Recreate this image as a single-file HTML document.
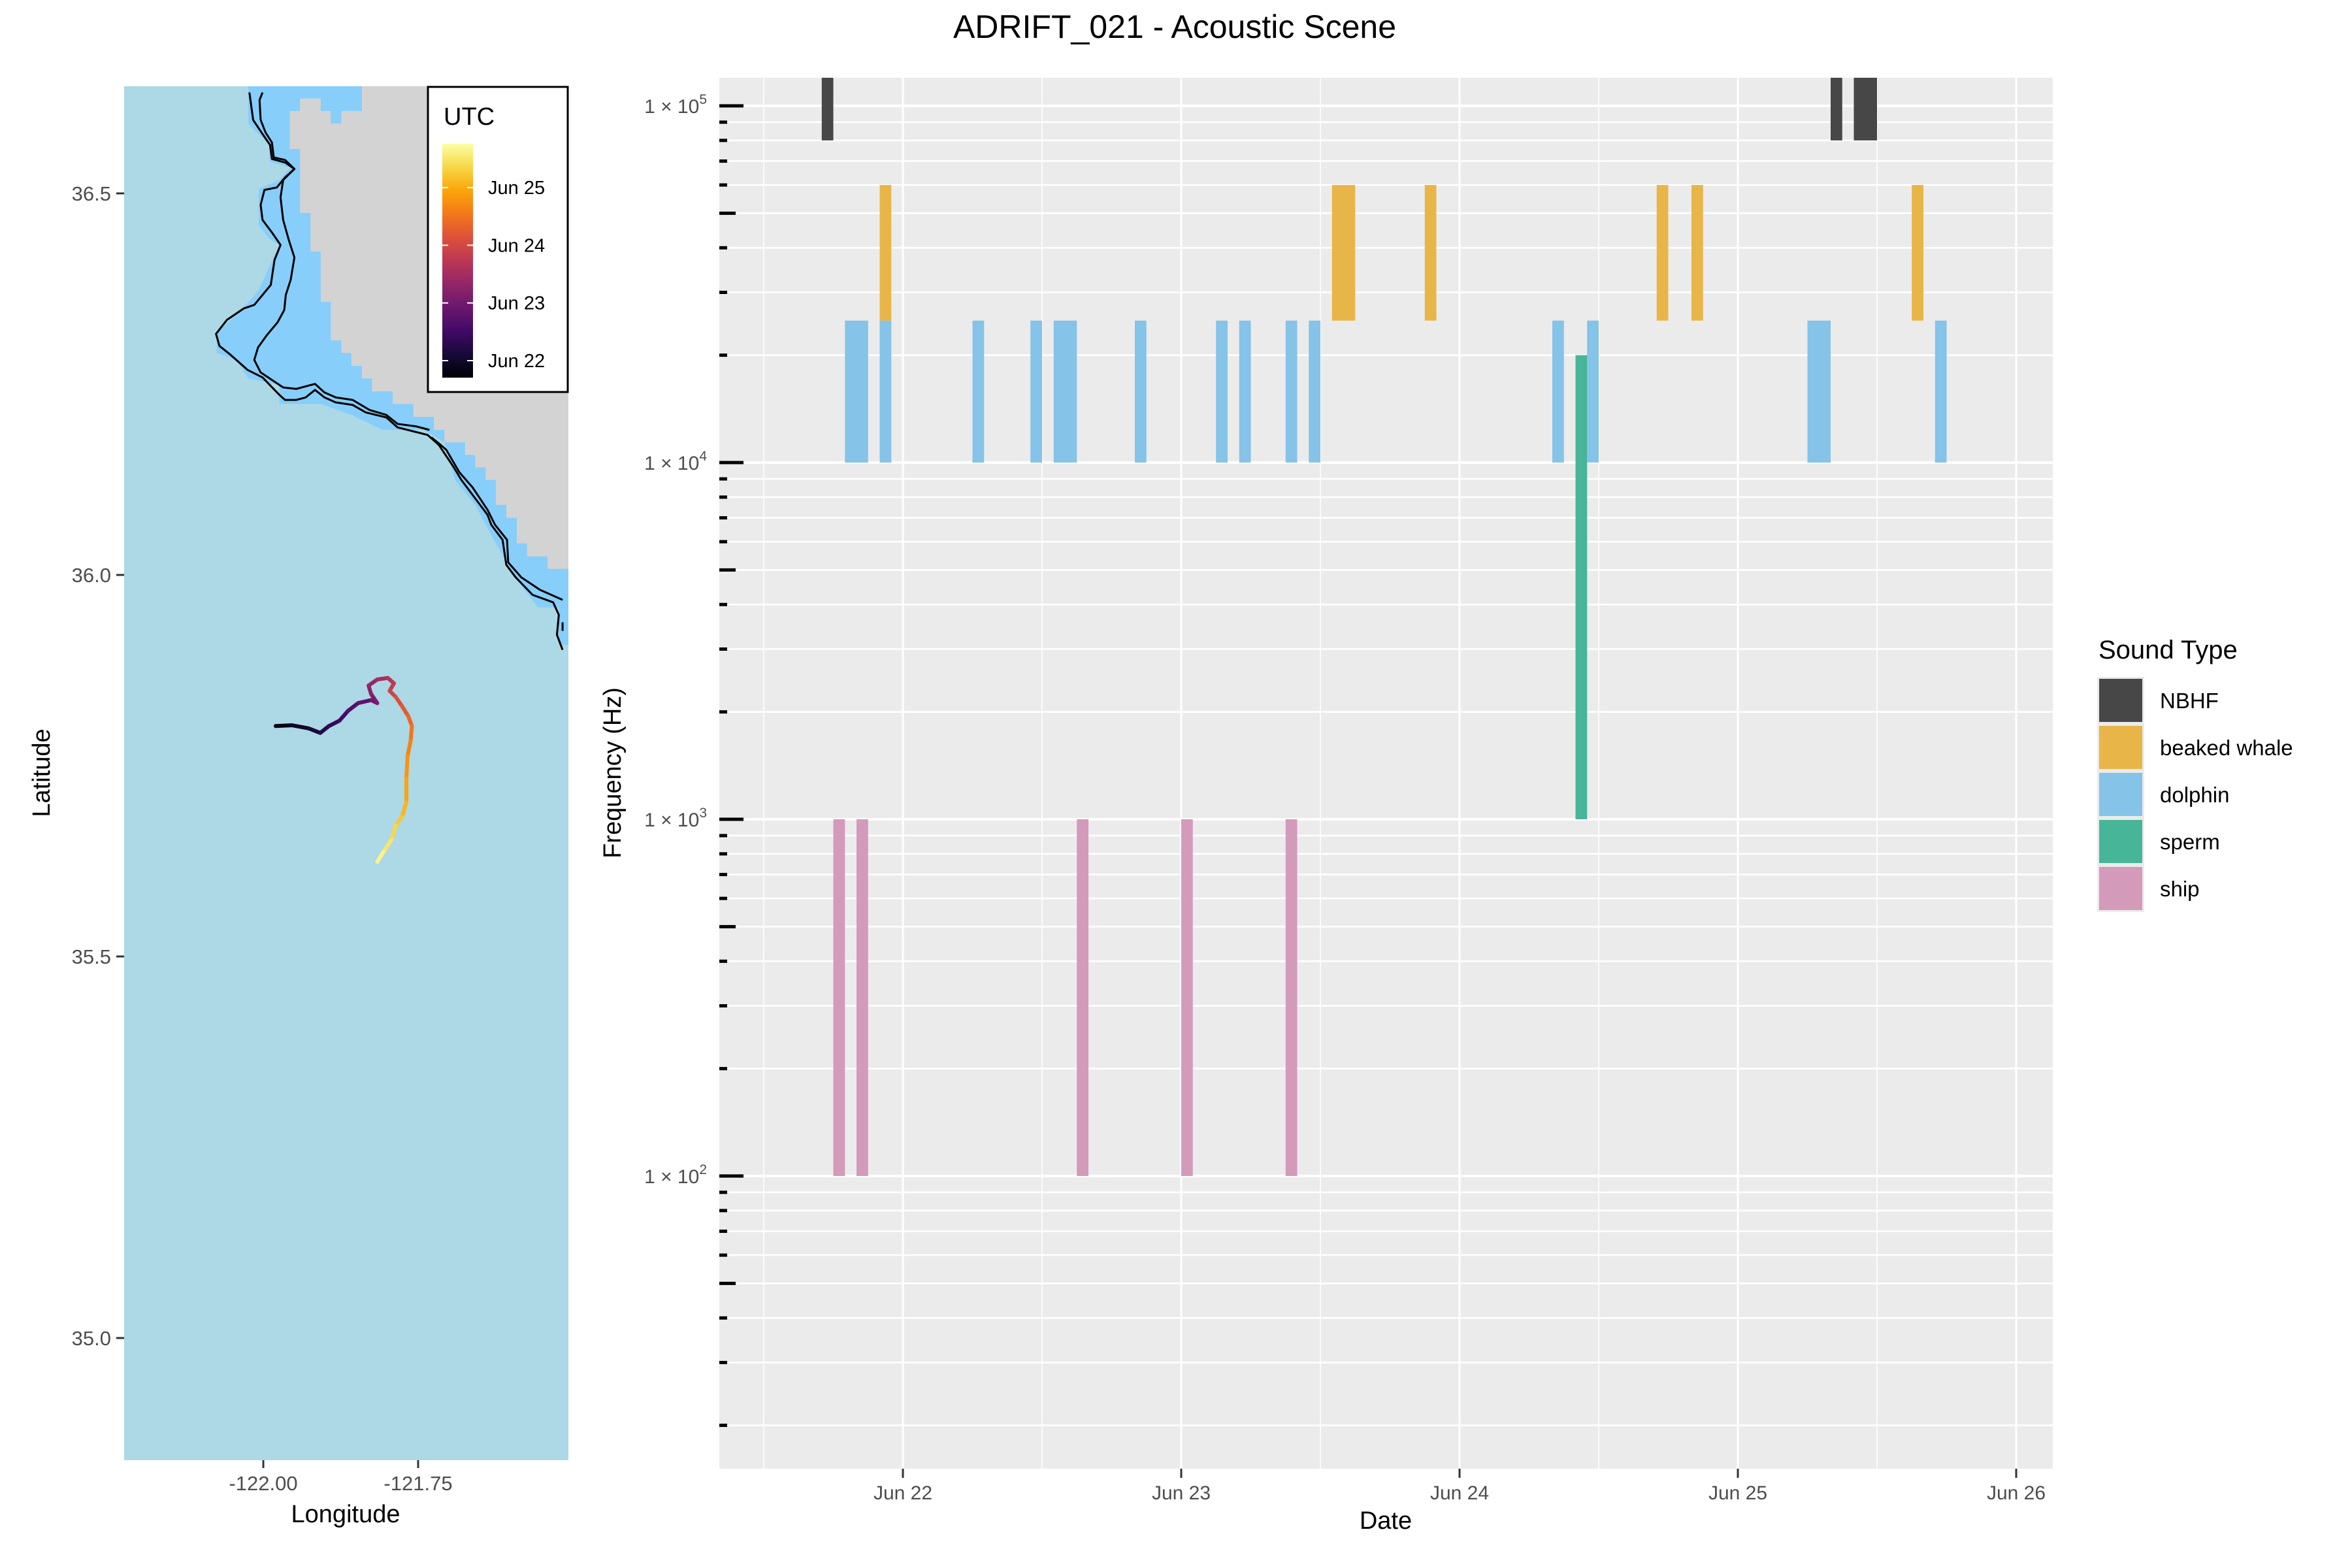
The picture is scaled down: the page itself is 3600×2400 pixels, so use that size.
<!DOCTYPE html>
<html><head><meta charset="utf-8"><title>ADRIFT_021 - Acoustic Scene</title>
<style>
html,body{margin:0;padding:0;background:#fff;}
svg{display:block;font-family:"Liberation Sans",sans-serif;}
</style></head>
<body>
<svg id="fig" width="3600" height="2400" viewBox="0 0 3600 2400" xmlns="http://www.w3.org/2000/svg">
<defs>
<linearGradient id="inferno" x1="0" y1="1" x2="0" y2="0">
<stop offset="0" stop-color="#000004"/><stop offset="0.1" stop-color="#160b39"/><stop offset="0.2" stop-color="#420a68"/>
<stop offset="0.3" stop-color="#6a176e"/><stop offset="0.4" stop-color="#932667"/><stop offset="0.5" stop-color="#bc3754"/>
<stop offset="0.6" stop-color="#dd513a"/><stop offset="0.7" stop-color="#f37819"/><stop offset="0.8" stop-color="#fca50a"/>
<stop offset="0.9" stop-color="#f6d746"/><stop offset="1" stop-color="#fcffa4"/>
</linearGradient>
<clipPath id="mapclip"><rect x="190" y="132" width="680" height="2103"/></clipPath>
<clipPath id="chartclip"><rect x="1101" y="119" width="2041" height="2129"/></clipPath>
</defs>
<text x="1798" y="58" font-size="50" text-anchor="middle" fill="#000">ADRIFT_021 - Acoustic Scene</text>

<!-- MAP -->
<g>
<rect x="190" y="132" width="680" height="2103" fill="#add8e6"/>
<g clip-path="url(#mapclip)">
<g transform="scale(0.57405,0.76511)">
<polygon fill="#87cefa" points="662,172 662,247 718,290 718,323 775,335 745,360 690,378 690,450 718,478 745,490 690,580 662,605 630,630 578,665 578,706 630,720 662,757 745,770 745,808 855,808 937,830 1020,860 1130,860 1185,885 1213,960 1267,1010 1322,1087 1378,1160 1435,1215 1490,1215 1490,1290 1516,1290 1516,172"/>
<polygon fill="#d3d3d3" points="965,172 1516,172 1516,1138 1460,1138 1460,1113 1405,1113 1405,1087 1378,1087 1378,1036 1350,1036 1350,1010 1322,1010 1322,960 1295,960 1295,935 1267,935 1267,910 1240,910 1240,885 1185,885 1185,860 1157,860 1157,834 1102,834 1102,808 1047,808 1047,783 992,783 992,757 965,757 965,732 937,732 937,706 910,706 910,681 882,681 882,604 855,604 855,503 828,503 828,426 800,426 800,298 773,298 773,222 800,222 800,197 855,197 855,222 882,222 882,247 910,247 910,222 965,222"/>
<g fill="none" stroke="#000" stroke-width="3" stroke-linejoin="round">
<polyline vector-effect="non-scaling-stroke" points="665,185 675,240 700,268 720,290 725,318 760,325 785,338 760,355 738,375 705,380 695,410 700,440 725,465 748,490 732,520 722,570 678,610 650,617 605,640 576,668 585,692 615,710 630,720 660,740 700,755 745,790 760,800 790,800 815,795 840,780 865,795 895,805 940,810 975,825 1030,835 1060,855 1140,870 1170,890 1210,935 1230,960 1270,1000 1300,1030 1310,1050 1340,1080 1350,1130 1375,1155 1420,1190 1475,1205 1490,1230 1485,1270 1500,1300"/>
<polyline vector-effect="non-scaling-stroke" points="700,185 692,200 695,240 708,265 725,285 730,315 760,320 785,338 755,360 748,395 755,440 770,480 785,515 775,560 762,590 758,620 740,645 712,670 688,695 678,720 695,745 755,775 790,778 840,768 865,785 895,795 940,800 985,820 1030,830 1060,848 1110,853 1145,860"/>
<polyline vector-effect="non-scaling-stroke" points="1150,875 1175,890 1190,900 1225,945 1260,975 1300,1020 1320,1050 1352,1080 1355,1125 1390,1155 1440,1180 1500,1200"/>
<polyline vector-effect="non-scaling-stroke" points="1500,1245 1500,1262"/>
</g>
</g>
</g>
<g id="track" clip-path="url(#mapclip)"></g>
<g id="mapaxes"></g>
<g>
<rect x="655" y="133" width="214" height="467" fill="#fff" stroke="#000" stroke-width="3"/>
<text x="679" y="191" font-size="38" fill="#000">UTC</text>
<rect x="677" y="220" width="47" height="358" fill="url(#inferno)"/>
<g id="cbticks"></g>
</g>
<text x="529" y="2330" font-size="38" text-anchor="middle" fill="#000">Longitude</text>
<text transform="translate(76,1183) rotate(-90)" font-size="38" text-anchor="middle" fill="#000">Latitude</text>
</g>

<!-- CHART -->
<g>
<rect x="1101" y="119" width="2041" height="2129" fill="#ebebeb"/>
<g id="grid"></g>
<g id="bars" clip-path="url(#chartclip)"></g>
<g id="yticks"></g>
<g id="xticks"></g>
<text x="2121" y="2340" font-size="38" text-anchor="middle" fill="#000">Date</text>
<text transform="translate(950,1183) rotate(-90)" font-size="38" text-anchor="middle" fill="#000">Frequency (Hz)</text>
</g>
<g id="legend">
<text x="3212" y="1008" font-size="40" fill="#000">Sound Type</text>
</g>
</svg>
<script>
const NS='http://www.w3.org/2000/svg';
// ---- chart data ----
const soundTypes=['NBHF','beaked whale','dolphin','sperm','ship'];
const typeColors=['#474747','#e8b548','#85c3e8','#47b598','#d49aba'];
const freqLow=[80000,25000,10000,1000,100];
const freqHigh=[120000,60000,25000,20000,1000];
// event start hours (from Jun 21 00:00 UTC) and durations (hours)
const nbhfStart=[17,104,106];
const nbhfHours=[1,1,2];
const beakedStart=[22,61,69,89,92,111];
const beakedHours=[1,2,1,1,1,1];
const dolphinStart=[19,22,30,35,37,44,51,53,57,59,80,83,102,113];
const dolphinHours=[2,1,1,1,2,1,1,1,1,1,1,1,2,1];
const spermStart=[82];
const spermHours=[1];
const shipStart=[18,20,39,48,57];
const shipHours=[1,1,1,1,1];
const dateTicks=['Jun 22','Jun 23','Jun 24','Jun 25','Jun 26'];
const dateTickHours=[24,48,72,96,120];
const decadeExps=[2,3,4,5];
// ---- map data ----
const trackLon=[-121.980,-121.954,-121.927,-121.908,-121.894,-121.877,-121.863,-121.847,-121.826,-121.816,-121.826,-121.830,-121.816,-121.799,-121.789,-121.796,-121.786,-121.776,-121.766,-121.760,-121.762,-121.767,-121.769,-121.769,-121.776,-121.786,-121.793,-121.806,-121.816];
const trackLat=[35.802,35.803,35.799,35.793,35.802,35.809,35.822,35.832,35.836,35.832,35.844,35.855,35.863,35.865,35.858,35.848,35.840,35.828,35.815,35.802,35.783,35.763,35.733,35.702,35.683,35.672,35.653,35.637,35.624];
const latTicks=[35.0,35.5,36.0,36.5];
const lonTicks=[-122.00,-121.75];
const cbLabels=['Jun 22','Jun 23','Jun 24','Jun 25'];
const cbDays=[22,23,24,25];

// scales
const X0=1101,X1=3142;
const xH=h=>956+h*17.75;
const yF=f=>162+(5-Math.log10(f))*546;
const lonX=lon=>403+(lon+122)*948;
const latY=lat=>296+(36.5-lat)*1168;
const cbY=d=>552-(d-22)*88.3;

function mk(tag,attrs,parent){const e=document.createElementNS(NS,tag);for(const k in attrs)e.setAttribute(k,attrs[k]);parent.appendChild(e);return e;}

// grid
const grid=document.getElementById('grid');
for(let h=12;h<=120;h+=12){
  const x=xH(h);if(x<X0||x>X1)continue;
  const major=h%24===0;
  const l=mk('line',{x1:x,x2:x,y1:119,y2:2248,stroke:'#fff','stroke-width':major?3:1.6},grid);
  
  
}
const yticks=document.getElementById('yticks');
for(let n=1;n<=5;n++){for(let k=1;k<=9;k++){
  const f=k*Math.pow(10,n);const y=yF(f);if(y<119||y>2248)continue;
  const gl=mk('line',{x1:X0,x2:X1,y1:y,y2:y,stroke:'#fff','stroke-width':k===1?4:2.6},grid);
  
  
  const len=k===1?37:(k===5?25:12);
  const t=mk('line',{x1:X0,x2:X0+len,y1:y,y2:y,stroke:'#000','stroke-width':5},yticks);
  
  
}}
decadeExps.forEach(n=>{
  const y=yF(Math.pow(10,n));
  const tx=mk('text',{x:1082,y:y+11,'font-size':30,'text-anchor':'end',fill:'#4d4d4d'},yticks);
  
  
  tx.textContent='1 × 10';
  const s=mk('tspan',{dy:-14,'font-size':21},tx);s.textContent=String(n);
});
// x ticks
const xt=document.getElementById('xticks');
dateTicks.forEach((lab,i)=>{
  const x=xH(dateTickHours[i]);
  const t=mk('line',{x1:x,x2:x,y1:2248,y2:2262,stroke:'#333','stroke-width':3},xt);
  
  
  const tx=mk('text',{x:x,y:2295,'font-size':30,'text-anchor':'middle',fill:'#4d4d4d'},xt);
  
  
  tx.textContent=lab;
});
// bars
const bars=document.getElementById('bars');
const starts=[nbhfStart,beakedStart,dolphinStart,spermStart,shipStart];
const durs=[nbhfHours,beakedHours,dolphinHours,spermHours,shipHours];
const barNames=['bar-nbhf','bar-beaked-whale','bar-dolphin','bar-sperm','bar-ship'];
starts.forEach((arr,ti)=>{arr.forEach((h,j)=>{
  const x0=xH(h),x1=xH(h+durs[ti][j]);
  const y0=yF(freqHigh[ti]),y1=yF(freqLow[ti]);
  const r=mk('rect',{x:x0,y:y0,width:x1-x0,height:y1-y0,fill:typeColors[ti]},bars);
  
  
});});
// legend
const lg=document.getElementById('legend');
soundTypes.forEach((s,i)=>{
  const y=1036+i*72;
  mk('rect',{x:3210,y:y,width:72,height:72,fill:'#ebebeb'},lg);
  const r=mk('rect',{x:3213,y:y+3,width:66,height:66,fill:typeColors[i]},lg);
  
  
  const t=mk('text',{x:3306,y:y+48,'font-size':33,fill:'#000'},lg);
  
  
  t.textContent=s;
});
// map axes
const ma=document.getElementById('mapaxes');
latTicks.forEach(v=>{
  const y=latY(v);
  const t=mk('line',{x1:178,x2:190,y1:y,y2:y,stroke:'#333','stroke-width':3},ma);
  
  
  const tx=mk('text',{x:170,y:y+11,'font-size':31,'text-anchor':'end',fill:'#4d4d4d'},ma);
  
  
  tx.textContent=v.toFixed(1);
});
lonTicks.forEach(v=>{
  const x=lonX(v);
  const t=mk('line',{x1:x,x2:x,y1:2235,y2:2247,stroke:'#333','stroke-width':3},ma);
  
  
  const tx=mk('text',{x:x,y:2281,'font-size':31,'text-anchor':'middle',fill:'#4d4d4d'},ma);
  
  
  tx.textContent=v.toFixed(2);
});
// colorbar ticks
const cb=document.getElementById('cbticks');
cbLabels.forEach((lab,i)=>{
  const y=cbY(cbDays[i]);
  mk('line',{x1:677,x2:686,y1:y,y2:y,stroke:'#fff','stroke-width':2},cb);
  mk('line',{x1:715,x2:724,y1:y,y2:y,stroke:'#fff','stroke-width':2},cb);
  const t=mk('text',{x:747,y:y+10,'font-size':29,fill:'#000'},cb);
  
  
  t.textContent=lab;
});
// track
const stops=['#000004','#160b39','#420a68','#6a176e','#932667','#bc3754','#dd513a','#f37819','#fca50a','#f6d746','#fcffa4'];
function hex(c){return [1,3,5].map(i=>parseInt(c.substr(i,2),16));}
function inf(t){t=Math.max(0,Math.min(1,t));const p=t*10,i=Math.min(9,Math.floor(p)),f=p-i;const a=hex(stops[i]),b=hex(stops[i+1]);return 'rgb('+a.map((v,k)=>Math.round(v+(b[k]-v)*f)).join(',')+')';}
const tr=document.getElementById('track');
const n=trackLon.length;
for(let i=0;i<n-1;i++){
  const t=(i+0.5)/(n-1);
  const seg=mk('line',{x1:lonX(trackLon[i]),y1:latY(trackLat[i]),x2:lonX(trackLon[i+1]),y2:latY(trackLat[i+1]),stroke:inf(t*0.98+0.01),'stroke-width':6,'stroke-linecap':'round'},tr);
  
  
}
</script>
</body></html>
